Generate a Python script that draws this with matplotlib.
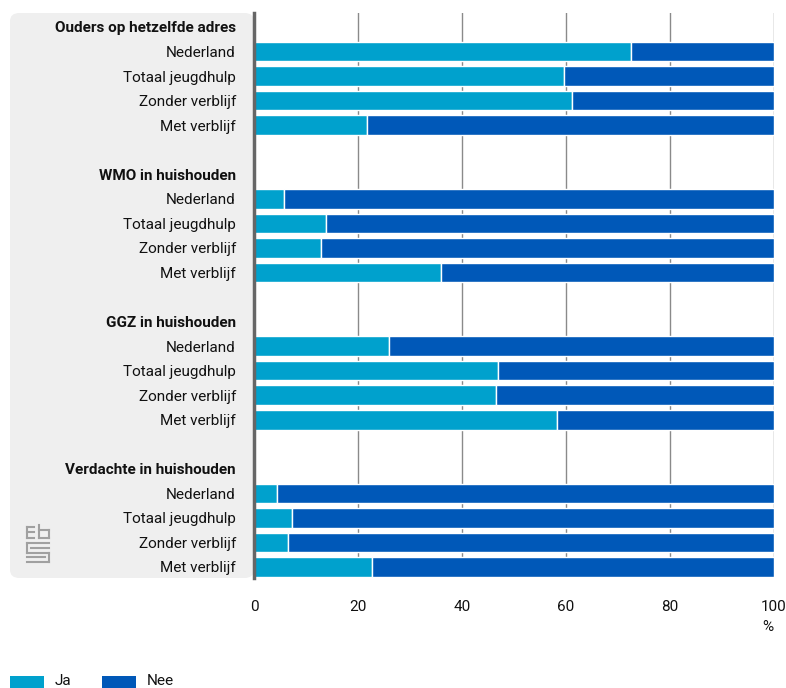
import numpy as np
import matplotlib.pyplot as plt
from matplotlib.patches import FancyBboxPatch, Rectangle

groups = ["Ouders op hetzelfde adres", "WMO in huishouden",
          "GGZ in huishouden", "Verdachte in huishouden"]
rows = ["Nederland", "Totaal jeugdhulp", "Zonder verblijf", "Met verblijf"]
ja = [
    [72.5, 59.6, 61.2, 21.7],
    [5.8, 13.8, 12.9, 36.0],
    [26.0, 46.9, 46.5, 58.3],
    [4.4, 7.3, 6.5, 22.7],
]
xticks = [0, 20, 40, 60, 80, 100]

c_ja = "#00a1cd"
c_nee = "#0058b8"
plt.rcParams['font.family'] = ['Roboto', 'DejaVu Sans']

fig = plt.figure(figsize=(7.86, 6.88), dpi=100)
W, H = 786, 688

# grey label panel
panel = FancyBboxPatch((10 / W, 1 - 578 / H), (254 - 10) / W, (578 - 13) / H,
                       boxstyle="round,pad=0,rounding_size=0.012",
                       transform=fig.transFigure, facecolor="#efefef",
                       edgecolor="none", zorder=-1)
fig.patches.append(panel)

ax = fig.add_axes([254 / W, 1 - 578 / H, (774 - 254) / W, (578 - 13) / H])
ax.set_facecolor("none")

ypos, labels, bold = [], [], []
y = 0
for gi, g in enumerate(groups):
    ypos.append(y); labels.append(g); bold.append(True)
    y += 1
    for ri, r in enumerate(rows):
        v = ja[gi][ri]
        ax.barh(y, v, height=0.8, color=c_ja, edgecolor="white", linewidth=1, zorder=3)
        ax.barh(y, 100 - v, left=v, height=0.8, color=c_nee, edgecolor="white",
                linewidth=1, zorder=3)
        ypos.append(y); labels.append(r); bold.append(False)
        y += 1
    y += 1

ax.set_ylim(22.45, -0.57)
ax.set_xlim(0, 100)
ax.set_yticks(ypos)
ax.set_yticklabels(labels, fontsize=11, color="#111111")
for t, b in zip(ax.get_yticklabels(), bold):
    if b:
        t.set_fontweight("bold")
ax.tick_params(axis="y", length=0, pad=13)
ax.set_xticks(xticks)
ax.set_xticklabels([str(v) for v in xticks], fontsize=11, color="#111111")
ax.tick_params(axis="x", length=0, pad=16)
ax.grid(axis="x", color="#8a8a8a", linewidth=1, zorder=1)
ax.set_axisbelow(True)
for s in ["top", "right", "bottom"]:
    ax.spines[s].set_visible(False)
ax.spines["left"].set_color("#666666")
ax.spines["left"].set_linewidth(2.5)
ax.spines["left"].set_zorder(4)

fig.text(768 / W, 1 - 627 / H, "%", fontsize=11, ha="center", va="center", color="#111111")

# legend
for x0, lab, col in [(10, "Ja", c_ja), (102, "Nee", c_nee)]:
    fig.patches.append(Rectangle((x0 / W, 0), 34 / W, 12 / H, transform=fig.transFigure,
                                 facecolor=col, edgecolor="none"))
    fig.text((x0 + 45) / W, 1 - 681 / H, lab, fontsize=11, va="center", color="#111111")

# simple cbs logo
lc = "#a0a0a0"
logo = [
    [(27, 527), (34, 527)], [(27, 527), (27, 538)], [(27, 538), (34, 538)],
    [(27, 532), (34, 532)],
    [(39, 525), (39, 538)], [(39, 538), (49, 538)], [(49, 538), (49, 530)], [(49, 530), (39, 530)],
    [(27, 543), (49, 543)], [(27, 543), (27, 553)], [(27, 553), (49, 553)],
    [(49, 553), (49, 562)], [(49, 562), (27, 562)],
    [(31, 548), (49, 548)], [(27, 557), (45, 557)],
]
for seg in logo:
    xs = [p[0] / W for p in seg]
    ys = [1 - p[1] / H for p in seg]
    fig.add_artist(plt.Line2D(xs, ys, color=lc, linewidth=1.5, transform=fig.transFigure))

fig.savefig("out.png", dpi=100)
